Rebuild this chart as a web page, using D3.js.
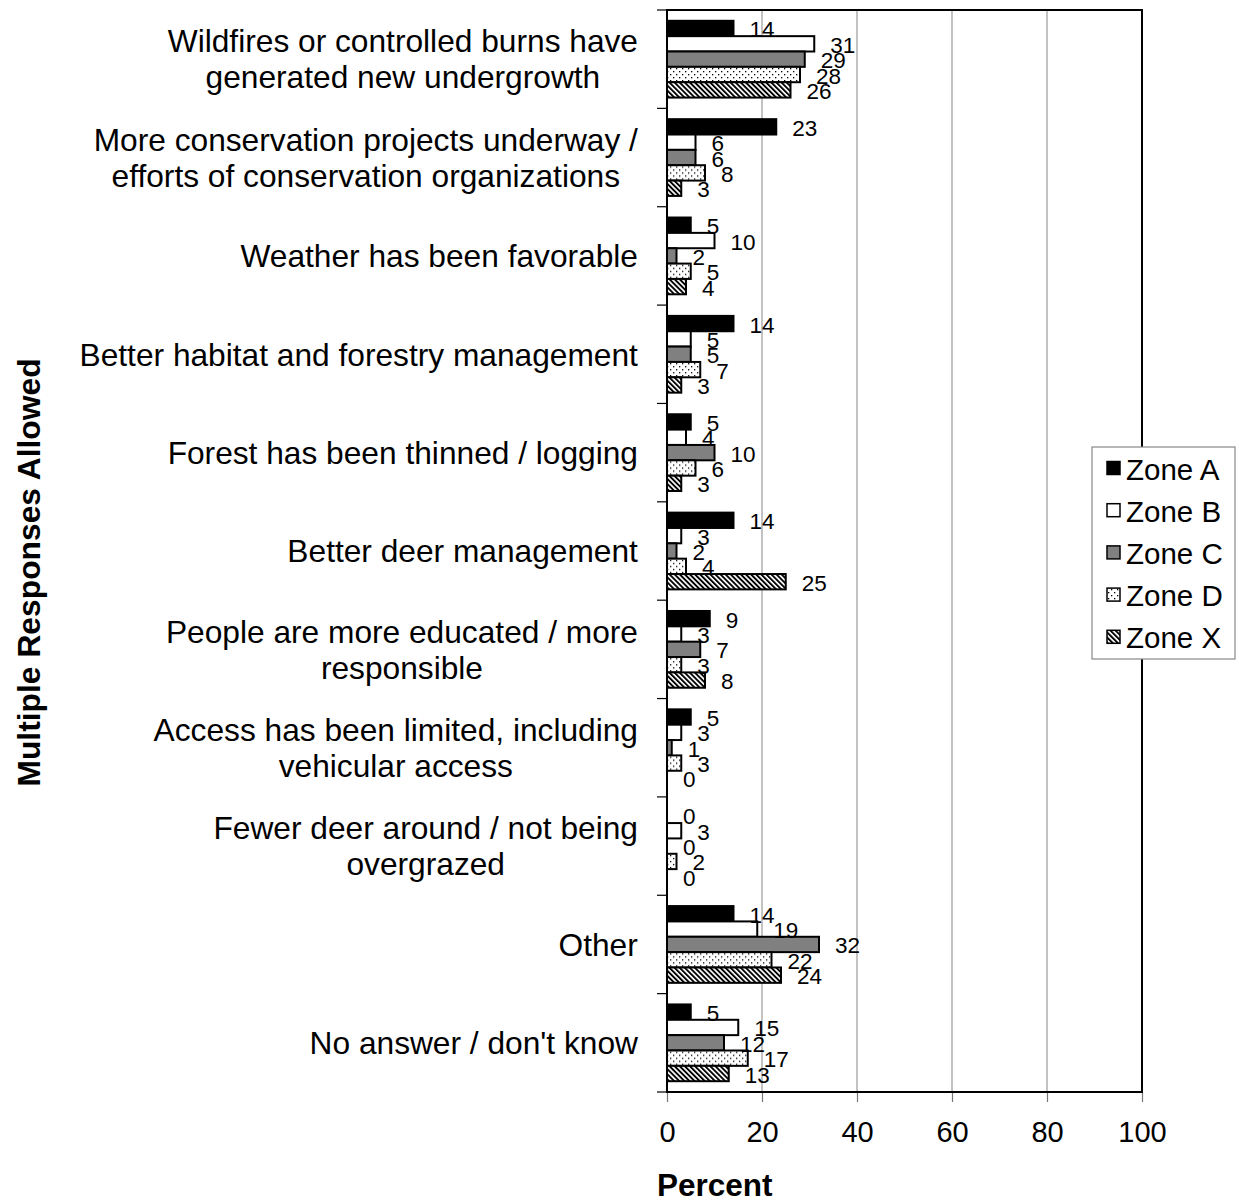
<!DOCTYPE html>
<html><head><meta charset="utf-8">
<script src="https://cdn.jsdelivr.net/npm/d3@7"></script>
<style>body{margin:0;background:#fff} text{font-family:"Liberation Sans", Arial, sans-serif; fill:#000}</style>
</head><body><svg id="c" width="1239" height="1203"></svg>
<script>
const categories = [
  "Wildfires or controlled burns have\ngenerated new undergrowth",
  "More conservation projects underway /\nefforts of conservation organizations",
  "Weather has been favorable",
  "Better habitat and forestry management",
  "Forest has been thinned / logging",
  "Better deer management",
  "People are more educated / more\nresponsible",
  "Access has been limited, including\nvehicular access",
  "Fewer deer around / not being\novergrazed",
  "Other",
  "No answer / don't know"
];
const zones = ["Zone A","Zone B","Zone C","Zone D","Zone X"];
const zoneA = [14,23,5,14,5,14,9,5,0,14,5];
const zoneB = [31,6,10,5,4,3,3,3,3,19,15];
const zoneC = [29,6,2,5,10,2,7,1,0,32,12];
const zoneD = [28,8,5,7,6,4,3,3,2,22,17];
const zoneX = [26,3,4,3,3,25,8,0,0,24,13];
const xTicks = [0,20,40,60,80,100];
const xTitle = "Percent";
const yTitle = "Multiple Responses Allowed";

const series = [zoneA, zoneB, zoneC, zoneD, zoneX];
const fills = ["#000", "#fff", "#808080", "url(#dots)", "url(#stripes)"];

const svg = d3.select("#c");
const L = 667, R = 1142, T = 10, B = 1092;

const defs = svg.append("defs");
const dots = defs.append("pattern").attr("id","dots").attr("patternUnits","userSpaceOnUse")
  .attr("width",6).attr("height",6);
dots.append("rect").attr("width",6).attr("height",6).attr("fill","#fff");
dots.append("rect").attr("x",1).attr("y",1).attr("width",1.3).attr("height",1.3).attr("fill","#000");
dots.append("rect").attr("x",4).attr("y",4).attr("width",1.3).attr("height",1.3).attr("fill","#000");
const stripes = defs.append("pattern").attr("id","stripes").attr("patternUnits","userSpaceOnUse")
  .attr("width",3.6).attr("height",3.6).attr("patternTransform","rotate(-45)");
stripes.append("rect").attr("width",3.6).attr("height",3.6).attr("fill","#fff");
stripes.append("rect").attr("width",1.9).attr("height",3.6).attr("fill","#000");

const x = d3.scaleLinear().domain([0,100]).range([L,R]);
const y0 = d3.scaleBand().domain(categories).range([T,B]).padding(0);
const pad = 10.8;
const y1 = d3.scaleBand().domain(zones).range([pad, y0.step()-pad]).padding(0);

// gridlines
svg.append("g").selectAll("line").data(xTicks.filter(t => t>0 && t<100)).join("line")
  .attr("x1", d=>x(d)).attr("x2", d=>x(d)).attr("y1", T).attr("y2", B)
  .attr("stroke","#9a9a9a").attr("stroke-width",1.2);

// bottom axis
const xAxis = d3.axisBottom(x).tickValues(xTicks).tickSize(10).tickSizeOuter(0);
const gx = svg.append("g").attr("transform",`translate(0,${B})`).call(xAxis);
gx.select(".domain").remove();
gx.selectAll(".tick line").attr("stroke","#777").attr("stroke-width",1.2);
gx.selectAll(".tick text").attr("font-size",29).attr("dy",null).attr("y",50)
  .style("font-family","'Liberation Sans', Arial, sans-serif");

// bars
const groups = svg.append("g").selectAll("g").data(categories).join("g")
  .attr("transform", d => `translate(0,${y0(d)})`);
zones.forEach((z, zi) => {
  groups.append("rect")
    .attr("x", x(0))
    .attr("y", y1(z))
    .attr("width", (d,i) => x(series[zi][i]) - x(0))
    .attr("height", y1.bandwidth())
    .attr("fill", fills[zi])
    .attr("stroke", "#000").attr("stroke-width", 2)
    .attr("display", (d,i) => series[zi][i] > 0 ? null : "none");
});
zones.forEach((z, zi) => {
  groups.append("text")
    .attr("x", (d,i) => x(series[zi][i]) + 16)
    .attr("y", y1(z) + y1.bandwidth()/2 + 1.5)
    .attr("dominant-baseline","central")
    .attr("font-size", 22.5)
    .text((d,i) => series[zi][i]);
});

// plot border
svg.append("rect").attr("x",L).attr("y",T).attr("width",R-L).attr("height",B-T)
  .attr("fill","none").attr("stroke","#000").attr("stroke-width",2);

// left category ticks
const bounds = d3.range(categories.length+1).map(i => T + i*y0.step());
svg.append("g").selectAll("line").data(bounds).join("line")
  .attr("x1", L-10).attr("x2", L).attr("y1", d=>d).attr("y2", d=>d)
  .attr("stroke","#000").attr("stroke-width",1.2);

// category labels
const catG = svg.append("g");
categories.forEach(c => {
  const lines = c.split("\n");
  const cy = y0(c) + y0.step()/2;
  const lh = 36;
  const t = catG.append("text").attr("font-size",31.7).attr("text-anchor","middle");
  lines.forEach((ln, li) => {
    t.append("tspan").attr("x",0).attr("y", cy + (li - (lines.length-1)/2)*lh + 11.3).text(ln);
  });
  const w = t.node().getBBox().width;
  t.attr("transform", `translate(${638 - w/2},0)`);
});

// axis titles
svg.append("text").attr("x",657).attr("y",1196).attr("font-size",31.5).attr("font-weight","bold").text(xTitle);
svg.append("text").attr("transform","translate(40,572.5) rotate(-90)").attr("text-anchor","middle")
  .attr("font-size",31.8).attr("font-weight","bold").text(yTitle);

// legend
const lg = svg.append("g");
lg.append("rect").attr("x",1092).attr("y",447).attr("width",143).attr("height",212)
  .attr("fill","#fff").attr("stroke","#888").attr("stroke-width",1.2);
zones.forEach((z, zi) => {
  const cy = 468 + zi*42.2;
  lg.append("rect").attr("x",1107).attr("y",cy-6.5).attr("width",13).attr("height",13)
    .attr("fill",fills[zi]).attr("stroke","#000").attr("stroke-width",1.5);
  lg.append("text").attr("x",1126).attr("y",cy+1).attr("dominant-baseline","central")
    .attr("font-size",29.5).text(z);
});
</script></body></html>
